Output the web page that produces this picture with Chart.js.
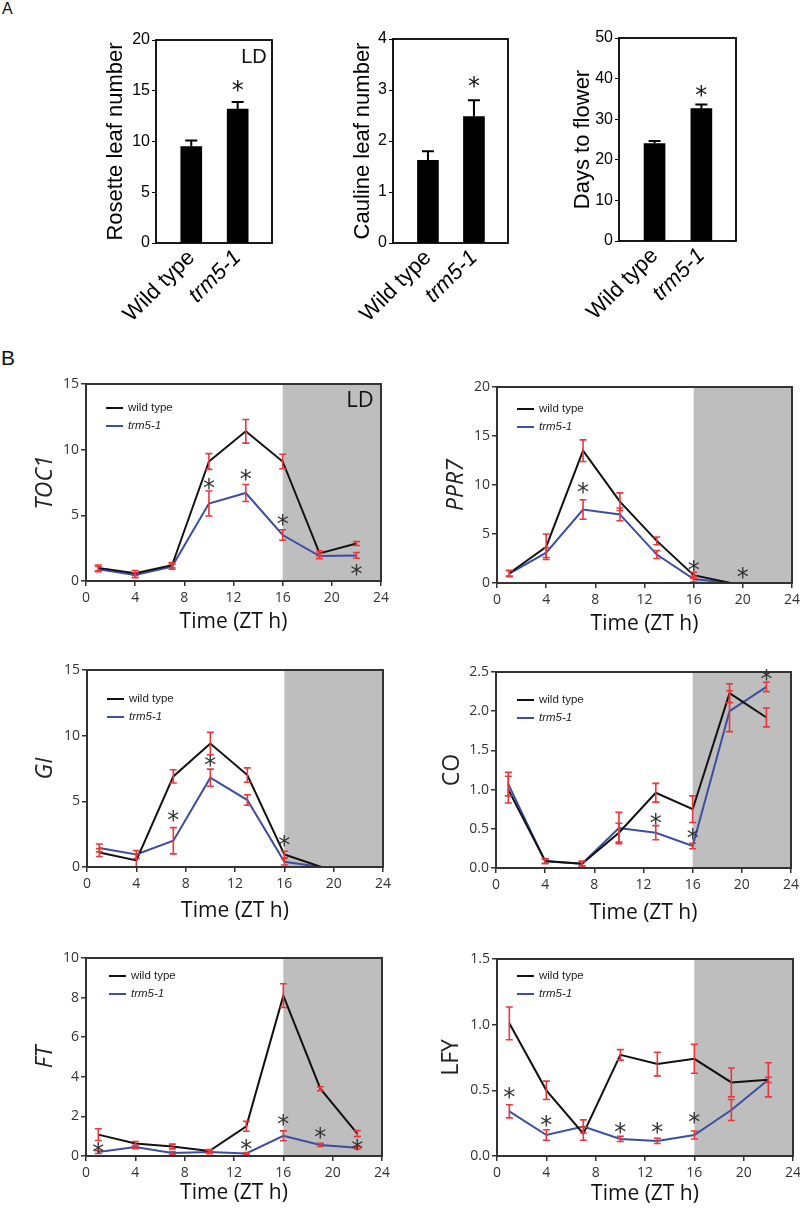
<!DOCTYPE html>
<html>
<head>
<meta charset="utf-8">
<script src="https://cdn.jsdelivr.net/npm/chart.js@4.4.0/dist/chart.umd.min.js"></script>
<style>
body { margin: 0; background: #fff; }
#page { position: relative; width: 800px; height: 1208px; overflow: hidden; background: #fff; }
canvas { position: absolute; }
.tag { position: absolute; font-family: "Liberation Sans", Arial, sans-serif; color: #111; }
</style>
</head>
<body>
<div id="page">
<div class="tag" style="left:2px;top:1px;font-size:16px;line-height:16px;">A</div>
<div class="tag" style="left:1px;top:347px;font-size:21px;line-height:21px;">B</div>
<canvas id="rosette"></canvas>
<canvas id="cauline"></canvas>
<canvas id="days"></canvas>
<canvas id="toc1"></canvas>
<canvas id="ppr7"></canvas>
<canvas id="gi"></canvas>
<canvas id="co"></canvas>
<canvas id="ft"></canvas>
<canvas id="lfy"></canvas>
</div>
<script>
// ---- panel A data
const genotypes = ['Wild type', 'trm5-1'];
const rosette = [9.5, 13.2];
const rosetteErr = [0.6, 0.7];
const cauline = [1.62, 2.48];
const caulineErr = [0.18, 0.32];
const days = [24.0, 32.6];
const daysErr = [0.65, 1.0];
const rosetteStar = 15.5;
const caulineStar = 3.16;
const daysStar = 36.9;

// ---- panel B data (ZT hours)
const hours = [1, 4, 7, 10, 13, 16, 19, 22];
const darkStart = 16;

const toc1Wt = [1.0, 0.6, 1.2, 9.1, 11.4, 9.1, 2.1, 2.85];
const toc1WtErr = [0.22, 0.2, 0.2, 0.6, 0.9, 0.55, 0.2, 0.15];
const toc1Trm = [0.9, 0.45, 1.1, 5.9, 6.7, 3.5, 1.9, 1.95];
const toc1TrmErr = [0.2, 0.2, 0.2, 0.95, 0.65, 0.4, 0.2, 0.22];
const toc1StarX = [10, 13, 16, 22];
const toc1StarY = [7.4, 8.1, 4.65, 0.8];

const ppr7Wt = [1.0, 3.7, 13.5, 8.3, 4.3, 0.8, 0.0, 0.0];
const ppr7WtErr = [0.3, 1.3, 1.1, 0.9, 0.4, 0.3, 0, 0];
const ppr7Trm = [0.95, 3.1, 7.5, 7.0, 2.9, 0.4, 0.0, 0.0];
const ppr7TrmErr = [0.3, 0.5, 1.0, 0.65, 0.4, 0.3, 0, 0];
const ppr7StarX = [7, 16, 20];
const ppr7StarY = [9.7, 1.75, 1.05];

const giWt = [1.1, 0.5, 6.9, 9.4, 7.0, 0.95, 0.0, 0.0];
const giWtErr = [0.3, 0.5, 0.5, 0.85, 0.55, 0.25, 0, 0];
const giTrm = [1.45, 0.95, 2.0, 6.8, 5.1, 0.4, 0.0, 0.0];
const giTrmErr = [0.3, 0.3, 1.0, 0.65, 0.4, 0.25, 0, 0];
const giStarX = [7, 10, 16];
const giStarY = [3.9, 8.05, 2.0];

const coWt = [1.0, 0.09, 0.055, 0.45, 0.96, 0.75, 2.23, 1.92];
const coWtErr = [0.17, 0.03, 0.03, 0.12, 0.12, 0.17, 0.12, 0.12];
const coTrm = [1.07, 0.085, 0.055, 0.51, 0.45, 0.28, 2.0, 2.31];
const coTrmErr = [0.15, 0.03, 0.03, 0.2, 0.09, 0.035, 0.26, 0.06];
const coStarX = [13, 16, 22];
const coStarY = [0.63, 0.43, 2.46];

const ftWt = [1.08, 0.63, 0.48, 0.25, 1.5, 8.1, 3.4, 1.13];
const ftWtErr = [0.3, 0.1, 0.12, 0.08, 0.25, 0.6, 0.1, 0.15];
const ftTrm = [0.2, 0.45, 0.15, 0.2, 0.13, 1.02, 0.56, 0.42];
const ftTrmErr = [0.07, 0.08, 0.08, 0.08, 0.05, 0.25, 0.08, 0.06];
const ftStarX = [1, 13, 16, 19, 22];
const ftStarY = [0.42, 0.57, 1.8, 1.16, 0.57];

const lfyWt = [1.01, 0.5, 0.17, 0.77, 0.7, 0.74, 0.56, 0.58];
const lfyWtErr = [0.125, 0.07, 0.05, 0.04, 0.09, 0.11, 0.11, 0.13];
const lfyTrm = [0.34, 0.16, 0.225, 0.13, 0.115, 0.16, 0.35, 0.58];
const lfyTrmErr = [0.05, 0.04, 0.05, 0.02, 0.02, 0.03, 0.08, 0.02];
const lfyStarX = [1, 4, 10, 13, 16];
const lfyStarY = [0.48, 0.27, 0.21, 0.21, 0.29];

const arial = '"Liberation Sans", Arial, sans-serif';
const sans = '"Open Sans", "Liberation Sans", sans-serif';
const red = '#e8383d';
const blue = '#3b4ea0';

function place(id, left, top, width, height) {
    const c = document.getElementById(id);
    c.width = width;
    c.height = height;
    c.style.left = left + 'px';
    c.style.top = top + 'px';
    return c.getContext('2d');
}

function drawStar(ctx, px, py, size) {
    ctx.font = size + 'px "DejaVu Sans", sans-serif';
    ctx.textAlign = 'center';
    ctx.textBaseline = 'alphabetic';
    const m = ctx.measureText('*');
    ctx.fillText('*', px, py + (m.actualBoundingBoxAscent - m.actualBoundingBoxDescent) / 2);
}

function drawBars(id, g, s) {
    const cl = g.left - 100, cw = g.right + 20 - cl, ch = 340;
    const ctx = place(id, cl, 0, cw, ch);
    const extras = {
        id: 'barExtras',
        afterDatasetsDraw(chart) {
            const { ctx, chartArea: a, scales: { x, y } } = chart;
            ctx.save();
            ctx.strokeStyle = '#000';
            ctx.lineWidth = 2;
            s.values.forEach((v, i) => {
                const px = x.getPixelForValue(i);
                const base = y.getPixelForValue(v);
                const top = y.getPixelForValue(v + s.err[i]);
                ctx.beginPath();
                ctx.moveTo(px, base);
                ctx.lineTo(px, top);
                ctx.moveTo(px - 6, top);
                ctx.lineTo(px + 6, top);
                ctx.stroke();
            });
            ctx.fillStyle = '#111';
            drawStar(ctx, x.getPixelForValue(1), y.getPixelForValue(s.star), 24);
            ctx.lineWidth = 1.8;
            ctx.strokeRect(a.left, a.top, a.right - a.left, a.bottom - a.top);
            if (s.ld) {
                ctx.font = '20px ' + arial;
                ctx.textAlign = 'center';
                ctx.textBaseline = 'middle';
                ctx.fillText('LD', a.right - 18, a.top + 17);
            }
            ctx.restore();
        }
    };
    new Chart(ctx, {
        type: 'bar',
        data: {
            datasets: [{
                data: s.values.map((v, i) => ({ x: i, y: v })),
                backgroundColor: '#000',
                barThickness: 21
            }]
        },
        options: {
            responsive: false,
            animation: false,
            layout: { padding: { left: 0, top: g.top, right: cl + cw - g.right, bottom: 0 } },
            plugins: { legend: { display: false }, tooltip: { enabled: false } },
            scales: {
                x: {
                    type: 'linear', min: -0.76, max: 1.74, offset: false,
                    grid: { display: false, drawTicks: false, offset: false },
                    border: { display: false },
                    afterBuildTicks: sc => { sc.ticks = genotypes.map((n, i) => ({ value: i })); },
                    ticks: {
                        minRotation: 45, maxRotation: 45, padding: 2, color: '#000', autoSkip: false,
                        callback: v => genotypes[v],
                        font: c => ({ family: arial, size: 22, style: c.index === 1 ? 'italic' : 'normal' })
                    },
                    afterFit: sc => { sc.height = ch - g.bottom; }
                },
                y: {
                    min: 0, max: s.max,
                    ticks: { stepSize: s.step, padding: 2, color: '#000', font: { family: arial, size: 16 } },
                    grid: { drawOnChartArea: false, tickLength: 4, color: '#000' },
                    border: { display: false },
                    title: {
                        display: true, text: s.title, color: '#000',
                        font: { family: arial, size: 22 },
                        padding: { top: g.titleX - cl - 13.2, bottom: 0 }
                    },
                    afterFit: sc => { sc.width = g.left - cl; }
                }
            }
        },
        plugins: [extras]
    });
}

function drawTimeCourse(id, g, s) {
    const cl = g.col * 400, ct = g.top - 20, cw = 420;
    const cb = Math.min(g.xTitleY + 20, 1208);
    const ctx = place(id, cl, ct, cw, cb - ct);
    const series = [
        { label: 'wild type', values: s.wt, err: s.wtErr, color: '#111111', italic: false },
        { label: 'trm5-1', values: s.trm, err: s.trmErr, color: blue, italic: true }
    ];
    const extras = {
        id: 'timeExtras',
        beforeDatasetsDraw(chart) {
            const { ctx, chartArea: a, scales: { x } } = chart;
            const x0 = x.getPixelForValue(darkStart);
            ctx.save();
            ctx.fillStyle = '#bebebe';
            ctx.fillRect(x0, a.top, a.right - x0, a.bottom - a.top);
            ctx.restore();
        },
        afterDatasetsDraw(chart) {
            const { ctx, chartArea: a, scales: { x, y } } = chart;
            ctx.save();
            // error bars
            ctx.strokeStyle = red;
            ctx.lineWidth = 1.6;
            series.forEach(ser => ser.values.forEach((v, i) => {
                if (!ser.err[i]) return;
                const px = x.getPixelForValue(hours[i]);
                const hi = y.getPixelForValue(v + ser.err[i]);
                const lo = y.getPixelForValue(Math.max(v - ser.err[i], 0));
                ctx.beginPath();
                ctx.moveTo(px, lo);
                ctx.lineTo(px, hi);
                ctx.moveTo(px - 3.5, hi);
                ctx.lineTo(px + 3.5, hi);
                ctx.moveTo(px - 3.5, lo);
                ctx.lineTo(px + 3.5, lo);
                ctx.stroke();
            }));
            // significance marks
            ctx.fillStyle = '#333';
            s.starX.forEach((sx, i) => {
                drawStar(ctx, x.getPixelForValue(sx), y.getPixelForValue(s.starY[i]), 24);
            });
            // frame
            ctx.strokeStyle = '#333';
            ctx.lineWidth = 2;
            ctx.strokeRect(a.left, a.top, a.right - a.left, a.bottom - a.top);
            // legend
            ctx.textAlign = 'left';
            ctx.textBaseline = 'middle';
            series.forEach((ser, i) => {
                const ly = a.top + g.legY + i * 18;
                const lx = a.left + g.legX;
                ctx.strokeStyle = ser.color;
                ctx.lineWidth = 2;
                ctx.beginPath();
                ctx.moveTo(lx, ly);
                ctx.lineTo(lx + 17, ly);
                ctx.stroke();
                ctx.fillStyle = '#222';
                ctx.font = (ser.italic ? 'italic ' : '') + '11.5px ' + arial;
                ctx.fillText(ser.label, lx + 22, ly);
            });
            if (s.ld) {
                ctx.fillStyle = '#111';
                ctx.font = '22px ' + sans;
                ctx.textAlign = 'center';
                ctx.fillText('LD', a.right - 21, a.top + 17);
            }
            ctx.restore();
        }
    };
    new Chart(ctx, {
        type: 'line',
        data: {
            datasets: series.map(ser => ({
                label: ser.label,
                data: hours.map((h, i) => ({ x: h, y: ser.values[i] })),
                borderColor: ser.color,
                backgroundColor: ser.color,
                borderWidth: 2,
                pointRadius: 0,
                tension: 0
            }))
        },
        options: {
            responsive: false,
            animation: false,
            layout: { padding: { left: 0, top: g.top - ct, right: cl + cw - g.right, bottom: 0 } },
            plugins: { legend: { display: false }, tooltip: { enabled: false } },
            scales: {
                x: {
                    type: 'linear', min: 0, max: 24,
                    ticks: { stepSize: 4, padding: 4, color: '#333', font: { family: sans, size: 14 } },
                    grid: { drawOnChartArea: false, tickLength: 5, color: '#333', lineWidth: 1.5 },
                    border: { display: false },
                    title: {
                        display: true, text: 'Time (ZT h)', color: '#111',
                        font: { family: sans, size: 21 },
                        padding: { top: 0, bottom: cb - g.xTitleY - 12.6 }
                    },
                    afterFit: sc => { sc.height = cb - g.bottom; }
                },
                y: {
                    min: 0, max: s.max,
                    ticks: {
                        stepSize: s.step, padding: 2, color: '#333', font: { family: sans, size: 14 },
                        callback: v => v.toFixed(s.decimals)
                    },
                    grid: { drawOnChartArea: false, tickLength: 5, color: '#333', lineWidth: 1.5 },
                    border: { display: false },
                    title: {
                        display: true, text: s.title, color: '#222',
                        font: { family: sans, size: 23, style: s.italic ? 'italic' : 'normal' },
                        padding: { top: g.titleX - cl - 13.8, bottom: 0 }
                    },
                    afterFit: sc => { sc.width = g.left - cl; }
                }
            }
        },
        plugins: [extras]
    });
}

drawBars('rosette', { left: 156, right: 272, top: 40, bottom: 243, titleX: 116 },
    { values: rosette, err: rosetteErr, star: rosetteStar, max: 20, step: 5, title: 'Rosette leaf number', ld: true });
drawBars('cauline', { left: 393, right: 508, top: 39, bottom: 243, titleX: 363 },
    { values: cauline, err: caulineErr, star: caulineStar, max: 4, step: 1, title: 'Cauline leaf number' });
drawBars('days', { left: 619, right: 736, top: 38, bottom: 241, titleX: 583 },
    { values: days, err: daysErr, star: daysStar, max: 50, step: 10, title: 'Days to flower' });

drawTimeCourse('toc1', { col: 0, left: 86, right: 381, top: 384, bottom: 581, titleX: 45, xTitleY: 622, legX: 20, legY: 24 },
    { title: 'TOC1', italic: true, max: 15, step: 5, decimals: 0, ld: true,
      wt: toc1Wt, wtErr: toc1WtErr, trm: toc1Trm, trmErr: toc1TrmErr, starX: toc1StarX, starY: toc1StarY });
drawTimeCourse('ppr7', { col: 1, left: 497, right: 792, top: 387, bottom: 583, titleX: 456, xTitleY: 624, legX: 20, legY: 22 },
    { title: 'PPR7', italic: true, max: 20, step: 5, decimals: 0,
      wt: ppr7Wt, wtErr: ppr7WtErr, trm: ppr7Trm, trmErr: ppr7TrmErr, starX: ppr7StarX, starY: ppr7StarY });
drawTimeCourse('gi', { col: 0, left: 87, right: 383, top: 670, bottom: 867, titleX: 45, xTitleY: 911, legX: 20, legY: 29 },
    { title: 'GI', italic: true, max: 15, step: 5, decimals: 0,
      wt: giWt, wtErr: giWtErr, trm: giTrm, trmErr: giTrmErr, starX: giStarX, starY: giStarY });
drawTimeCourse('co', { col: 1, left: 496, right: 791, top: 672, bottom: 868, titleX: 452, xTitleY: 913, legX: 21, legY: 28 },
    { title: 'CO', italic: false, max: 2.5, step: 0.5, decimals: 1,
      wt: coWt, wtErr: coWtErr, trm: coTrm, trmErr: coTrmErr, starX: coStarX, starY: coStarY });
drawTimeCourse('ft', { col: 0, left: 86, right: 382, top: 958, bottom: 1156, titleX: 45, xTitleY: 1193, legX: 23, legY: 18 },
    { title: 'FT', italic: true, max: 10, step: 2, decimals: 0,
      wt: ftWt, wtErr: ftWtErr, trm: ftTrm, trmErr: ftTrmErr, starX: ftStarX, starY: ftStarY });
drawTimeCourse('lfy', { col: 1, left: 497, right: 793, top: 959, bottom: 1156, titleX: 451, xTitleY: 1194, legX: 20, legY: 17 },
    { title: 'LFY', italic: false, max: 1.5, step: 0.5, decimals: 1,
      wt: lfyWt, wtErr: lfyWtErr, trm: lfyTrm, trmErr: lfyTrmErr, starX: lfyStarX, starY: lfyStarY });
</script>
</body>
</html>
